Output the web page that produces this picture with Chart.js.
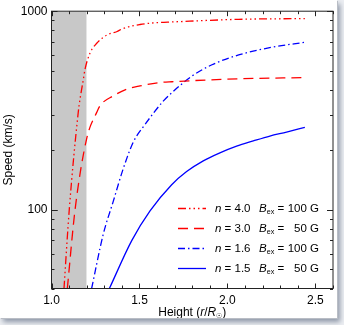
<!DOCTYPE html>
<html>
<head>
<meta charset="utf-8">
<script src="https://cdn.jsdelivr.net/npm/chart.js@4"></script>
<style>
  html, body { margin: 0; padding: 0; background: #eceef2; }
  #frame { position: absolute; left: 0; top: 0; width: 337px; height: 318px; background: #fff;
           box-shadow: 1px 1px 0 #b9bdc5, 3px 4px 5px #8e98a8; }
  #wrap { position: relative; width: 337px; height: 318px; }
</style>
</head>
<body>
<div id="frame"><div id="wrap"><canvas id="chart"></canvas></div></div>
<script>
// curves: height r/Ro and speed km/s
const n40Height = [1.071, 1.101, 1.152, 1.162, 1.181, 1.19, 1.219, 1.257, 1.314, 1.37, 1.408, 1.503, 1.607, 1.685, 2.064, 2.44];
const n40Speed  = [40, 100, 309, 360, 453, 507, 615, 689, 758, 788, 819, 857, 877, 883, 910, 918];

const n30Height = [1.090, 1.134, 1.2, 1.257, 1.276, 1.351, 1.427, 1.503, 1.607, 1.685, 2.064, 2.44];
const n30Speed  = [40, 100, 228, 309, 334, 374, 404, 420, 436, 441, 456, 463];

const n16Height = [1.228, 1.294, 1.351, 1.408, 1.465, 1.531, 1.635, 1.685, 1.798, 1.912, 2.064, 2.253, 2.44];
const n16Speed  = [40, 75, 110, 161, 219, 268, 352, 389, 471, 537, 602, 658, 697];

const n15Height = [1.329, 1.456, 1.560, 1.683, 1.768, 1.8625, 1.957, 2.052, 2.147, 2.241, 2.336, 2.44];
const n15Speed  = [40, 69.7, 98.4, 133.4, 155.4, 176, 193, 208.7, 221.8, 234.8, 245.8, 259.5];

const nLabels = ['4.0', '3.0', '1.6', '1.5'];
const bLabels = ['100', '50', '100', '50'];

const shadeHeight = [1.0, 1.2];
const shadeSpeed = [1000, 1000];

const xTicks = [1.0, 1.5, 2.0, 2.5];
const yTicks = [100, 1000];

const FONT = '"Liberation Sans", Arial, Helvetica, sans-serif';

function pts(xs, ys) {
    return xs.map((x, i) => ({ x: x, y: ys[i] }));
}

// draws a run of text pieces (italic / subscript) starting at x
function drawParts(ctx, parts, x, y, size) {
    let cx = x;
    parts.forEach(p => {
        const s = p.sub ? size * 0.62 : size;
        ctx.font = (p.it ? 'italic ' : '') + s + 'px ' + FONT;
        ctx.fillText(p.t, cx, p.sub ? y + size * 0.28 : y);
        cx += ctx.measureText(p.t).width;
    });
    return cx;
}
function partsWidth(ctx, parts, size) {
    let w = 0;
    parts.forEach(p => {
        const s = p.sub ? size * 0.62 : size;
        ctx.font = (p.it ? 'italic ' : '') + s + 'px ' + FONT;
        w += ctx.measureText(p.t).width;
    });
    return w;
}

const framePlugin = {
    id: 'frame',
    afterDraw(chart) {
        const ctx = chart.ctx;
        const a = chart.chartArea;
        const xs = chart.scales.x, ys = chart.scales.y;
        ctx.save();
        ctx.strokeStyle = '#222';
        ctx.lineWidth = 1;
        ctx.strokeRect(a.left, a.top, a.right - a.left, a.bottom - a.top);

        // inward tick marks on all four sides
        ctx.beginPath();
        for (let v = 1.0; v <= 2.601; v += 0.1) {
            const px = Math.round(xs.getPixelForValue(v)) + 0.5;
            const major = Math.abs(v * 2 - Math.round(v * 2)) < 1e-6;
            const len = major ? 5 : 3;
            ctx.moveTo(px, a.bottom); ctx.lineTo(px, a.bottom - len);
            ctx.moveTo(px, a.top); ctx.lineTo(px, a.top + len);
        }
        [10, 100].forEach(dec => {
            for (let m = 1; m <= 10; m++) {
                const v = dec * m;
                if (v < 40 || v > 1000) continue;
                const py = Math.round(ys.getPixelForValue(v)) + 0.5;
                const len = (v === 100 || v === 1000) ? 6 : 3;
                ctx.moveTo(a.left, py); ctx.lineTo(a.left + len, py);
                ctx.moveTo(a.right, py); ctx.lineTo(a.right - len, py);
            }
        });
        ctx.stroke();

        // axis titles
        ctx.fillStyle = '#000';
        ctx.textBaseline = 'middle';
        const xt = [{ t: 'Height (' }, { t: 'r', it: true }, { t: '/' }, { t: 'R', it: true }, { t: '\u2609', sub: true }, { t: ')' }];
        const w = partsWidth(ctx, xt, 12);
        drawParts(ctx, xt, (a.left + a.right) / 2 - w / 2, 313, 12);

        ctx.save();
        ctx.translate(9, (a.top + a.bottom) / 2);
        ctx.rotate(-Math.PI / 2);
        ctx.textAlign = 'center';
        ctx.font = '12px ' + FONT;
        ctx.fillText('Speed (km/s)', 0, 0);
        ctx.restore();

        // legend
        const curves = chart.data.datasets.filter(d => !d.isShade);
        curves.forEach((d, i) => {
            const y = 208.5 + i * 20;
            ctx.save();
            ctx.strokeStyle = d.borderColor;
            ctx.lineWidth = d.borderWidth;
            ctx.setLineDash(d.borderDash || []);
            ctx.beginPath();
            ctx.moveTo(178, y); ctx.lineTo(206, y);
            ctx.stroke();
            ctx.restore();
            ctx.textAlign = 'left';
            drawParts(ctx, [{ t: 'n', it: true }, { t: ' = ' + nLabels[i] }], 215, y, 11.5);
            drawParts(ctx, [{ t: 'B', it: true }, { t: 'ex', sub: true }, { t: ' =' }], 259, y, 11.5);
            ctx.font = '11.5px ' + FONT;
            ctx.textAlign = 'right';
            ctx.fillText(bLabels[i] + ' G', 319, y);
        });
        ctx.restore();
    }
};

const lineBase = { pointRadius: 0, borderWidth: 1.3, fill: false, cubicInterpolationMode: 'monotone' };

new Chart(document.getElementById('chart'), {
    type: 'line',
    data: {
        datasets: [
            Object.assign({ label: 'n = 4.0', data: pts(n40Height, n40Speed), borderColor: '#ff0000',
                borderDash: [8, 3, 1.5, 3, 1.5, 3, 1.5, 3] }, lineBase),
            Object.assign({ label: 'n = 3.0', data: pts(n30Height, n30Speed), borderColor: '#ff0000',
                borderDash: [10, 6] }, lineBase),
            Object.assign({ label: 'n = 1.6', data: pts(n16Height, n16Speed), borderColor: '#0000ff',
                borderDash: [7, 3, 1.5, 3] }, lineBase),
            Object.assign({ label: 'n = 1.5', data: pts(n15Height, n15Speed), borderColor: '#0000ff' }, lineBase),
            { label: 'shade', isShade: true, data: pts(shadeHeight, shadeSpeed), fill: 'start',
              backgroundColor: '#c8c8c8', borderWidth: 0, pointRadius: 0, order: 10 }
        ]
    },
    options: {
        responsive: true,
        maintainAspectRatio: false,
        animation: false,
        layout: { padding: { left: 0, top: 7.5, right: 4, bottom: 0 } },
        plugins: { legend: { display: false }, tooltip: { enabled: false } },
        scales: {
            x: {
                type: 'linear', min: 1.0, max: 2.6,
                grid: { display: false, drawTicks: false },
                border: { display: false },
                afterBuildTicks: s => { s.ticks = xTicks.map(v => ({ value: v })); },
                afterFit: s => { s.height = 29.5; },
                ticks: { color: '#000', padding: 5, maxRotation: 0, font: { family: FONT, size: 12 },
                         callback: v => Number(v).toFixed(1) }
            },
            y: {
                type: 'logarithmic', min: 40, max: 1000,
                grid: { display: false, drawTicks: false },
                border: { display: false },
                afterBuildTicks: s => { s.ticks = yTicks.map(v => ({ value: v })); },
                afterFit: s => { s.width = 51.5; },
                ticks: { color: '#000', padding: 4, font: { family: FONT, size: 12 },
                         callback: v => String(v) }
            }
        }
    },
    plugins: [framePlugin]
});
</script>
</body>
</html>
